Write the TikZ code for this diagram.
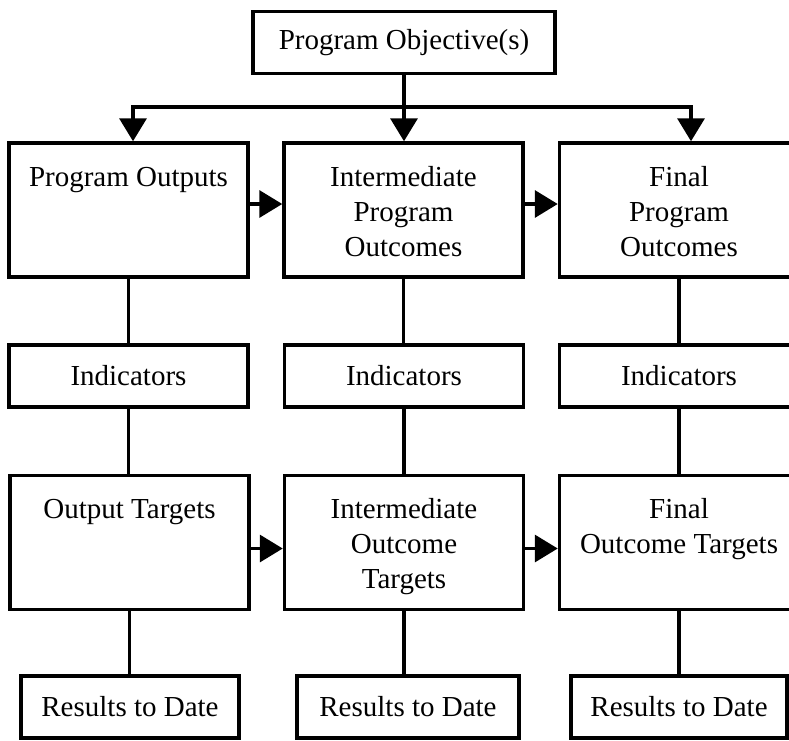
\documentclass[tikz,border=0pt]{standalone}
\usepackage{fontspec}
\setmainfont{Liberation Serif}
\usetikzlibrary{arrows.meta}

\newcommand{\boxlines}[1]{\parbox[c][134pt][t]{232pt}{\centering\rule{0pt}{43pt}#1}}

\begin{document}
\begin{tikzpicture}[x=1pt,y=-1pt,
  every node/.style={font=\fontsize{29}{35}\selectfont},
  box/.style={draw,line width=3.5pt,inner sep=0pt,minimum height=62pt},
  bigbox/.style={draw,line width=3.5pt,inner sep=0pt,minimum width=239pt},
  link/.style={line width=3.5pt},
  arr/.style={line width=3.5pt,-{Triangle[width=27pt,length=23pt]}}]

\useasboundingbox (0,0) rectangle (789,740);

\node[box,minimum width=302pt] (obj) at (404,42.5) {Program Objective(s)};

% outputs and outcomes
\node[bigbox] (out) at (128.5,210) {\boxlines{Program Outputs}};
\node[bigbox] (imo) at (403.5,210) {\boxlines{Intermediate\\Program\\Outcomes}};
\node[bigbox] (fpo) at (679,210) {\boxlines{Final\\Program\\Outcomes}};

\node[box,minimum width=239pt] (ind1) at (128.5,376) {Indicators};
\node[box,minimum width=239pt] (ind2) at (404,376) {Indicators};
\node[box,minimum width=239pt] (ind3) at (679,376) {Indicators};

% targets
\node[bigbox] (otg) at (129.5,542.5) {\boxlines{Output Targets}};
\node[bigbox] (iot) at (404,542.5) {\boxlines{Intermediate\\Outcome\\Targets}};
\node[bigbox] (fot) at (679,542.5) {\boxlines{Final\\Outcome Targets}};

\node[box,minimum width=218pt] (res1) at (130,707) {Results to Date};
\node[box,minimum width=222pt] (res2) at (408,707) {Results to Date};
\node[box,minimum width=216pt] (res3) at (679,707) {Results to Date};

\coordinate (busL) at (133,107);
\coordinate (busR) at (691,107);

\draw[arr] (obj.south) -- (obj.south |- imo.north);
\draw[arr] (obj.south |- busL) -| (busL |- out.north);
\draw[arr] (obj.south |- busR) -| (busR |- fpo.north);

\draw[arr] ([yshift=6pt]out.east) -- ([yshift=6pt]imo.west);
\draw[arr] ([yshift=6pt]imo.east) -- ([yshift=6pt]fpo.west);
\draw[arr] ([yshift=-6pt]otg.east) -- ([yshift=-6pt]iot.west);
\draw[arr] ([yshift=-6pt]iot.east) -- ([yshift=-6pt]fot.west);

\foreach \a/\b in {out/ind1,ind1/otg,otg/res1,imo/ind2,ind2/iot,iot/res2,fpo/ind3,ind3/fot,fot/res3}
  \draw[link] (\a.south) -- (\a.south |- \b.north);

\end{tikzpicture}
\end{document}
